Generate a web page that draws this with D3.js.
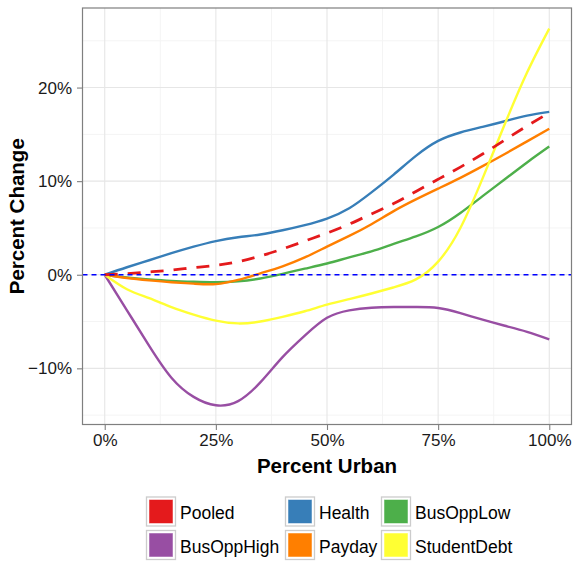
<!DOCTYPE html>
<html>
<head>
<meta charset="utf-8">
<script src="https://cdn.jsdelivr.net/npm/d3@7"></script>
<style>
  html, body { margin: 0; padding: 0; background: #ffffff; }
  svg { display: block; font-family: "Liberation Sans", Arial, Helvetica, sans-serif; }
</style>
</head>
<body>
<svg id="chart" width="574" height="562"></svg>
<script>
// Share of urban population (0..1) at which each smoothed curve is sampled
const urban = [0, 0.05, 0.1, 0.15, 0.2, 0.25, 0.3, 0.35, 0.4, 0.45, 0.5,
               0.55, 0.6, 0.65, 0.7, 0.75, 0.8, 0.85, 0.9, 0.95, 1.0];

// Percent change for each series
const pooled      = [0, 0.12, 0.3, 0.5, 0.75, 1.0, 1.4, 2.0, 2.75, 3.6, 4.45,
                     5.4, 6.5, 7.6, 8.9, 10.2, 11.5, 12.9, 14.4, 15.9, 17.3];
const health      = [0, 0.8, 1.55, 2.3, 3.0, 3.6, 4.0, 4.3, 4.75, 5.3, 6.0,
                     7.1, 8.8, 10.7, 12.7, 14.3, 15.2, 15.8, 16.4, 17.0, 17.4];
const busOppLow   = [0, -0.3, -0.5, -0.65, -0.75, -0.8, -0.7, -0.4, 0.1, 0.65, 1.2,
                     1.85, 2.5, 3.3, 4.1, 5.1, 6.6, 8.4, 10.2, 12.0, 13.7];
const busOppHigh  = [0, -3.8, -7.6, -11.0, -13.05, -13.95, -13.5, -11.5, -8.8, -6.5, -4.6,
                     -3.8, -3.52, -3.45, -3.45, -3.55, -4.1, -4.8, -5.45, -6.1, -6.9];
const payday      = [0, -0.35, -0.6, -0.8, -0.95, -1.0, -0.55, 0.15, 0.9, 1.85, 3.0,
                     4.15, 5.4, 6.8, 8.05, 9.2, 10.35, 11.6, 12.9, 14.25, 15.6];
const studentDebt = [0, -1.55, -2.5, -3.45, -4.25, -4.9, -5.2, -5.0, -4.5, -3.9, -3.2,
                     -2.6, -2.0, -1.35, -0.5, 1.4, 5.0, 10.3, 16.1, 21.6, 26.3];

const seriesNames  = ["Pooled", "Health", "BusOppLow", "BusOppHigh", "Payday", "StudentDebt"];
const seriesValues = [pooled, health, busOppLow, busOppHigh, payday, studentDebt];
const seriesColors = ["#E41A1C", "#377EB8", "#4DAF4A", "#984EA3", "#FF7F00", "#FFFF33"];

const xTicks = [0, 0.25, 0.5, 0.75, 1];
const xTickLabels = ["0%", "25%", "50%", "75%", "100%"];
const yTicks = [-10, 0, 10, 20];
const yTickLabels = ["\u221210%", "0%", "10%", "20%"];

const svg = d3.select("#chart");

const panel = { left: 82.5, right: 571.5, top: 8, bottom: 424.5 };

const x = d3.scaleLinear().domain([-0.05, 1.05]).range([panel.left, panel.right]);
const y = d3.scaleLinear().domain([-16, 28.5]).range([panel.bottom, panel.top]);

// Panel background
svg.append("rect")
  .attr("x", panel.left).attr("y", panel.top)
  .attr("width", panel.right - panel.left).attr("height", panel.bottom - panel.top)
  .attr("fill", "#ffffff");

// Grid: minor lines between the major ones
const xMinor = [0.125, 0.375, 0.625, 0.875];
const yMinor = [-15, -5, 5, 15, 25];
const grid = svg.append("g");
grid.selectAll(".xminor").data(xMinor).enter().append("line")
  .attr("x1", d => x(d)).attr("x2", d => x(d))
  .attr("y1", panel.top).attr("y2", panel.bottom)
  .attr("stroke", "#f4f4f4").attr("stroke-width", 1);
grid.selectAll(".yminor").data(yMinor).enter().append("line")
  .attr("x1", panel.left).attr("x2", panel.right)
  .attr("y1", d => y(d)).attr("y2", d => y(d))
  .attr("stroke", "#f4f4f4").attr("stroke-width", 1);
grid.selectAll(".xmajor").data(xTicks).enter().append("line")
  .attr("x1", d => x(d)).attr("x2", d => x(d))
  .attr("y1", panel.top).attr("y2", panel.bottom)
  .attr("stroke", "#e6e6e6").attr("stroke-width", 1.1);
grid.selectAll(".ymajor").data(yTicks).enter().append("line")
  .attr("x1", panel.left).attr("x2", panel.right)
  .attr("y1", d => y(d)).attr("y2", d => y(d))
  .attr("stroke", "#e6e6e6").attr("stroke-width", 1.1);

// Smoothed curves
const line = d3.line()
  .x((d, i) => x(urban[i]))
  .y(d => y(d))
  .curve(d3.curveNatural);

const curves = svg.append("g").attr("fill", "none");
seriesNames.forEach((name, k) => {
  if (name === "Pooled") return;
  curves.append("path")
    .datum(seriesValues[k])
    .attr("d", line)
    .attr("stroke", seriesColors[k])
    .attr("stroke-width", 2.4)
    .attr("stroke-linecap", "butt");
});
// Pooled estimate, dashed
curves.append("path")
  .datum(pooled)
  .attr("d", line)
  .attr("stroke", seriesColors[0])
  .attr("stroke-width", 2.8)
  .attr("stroke-dasharray", "13,10");

// Zero reference line
svg.append("line")
  .attr("x1", panel.left).attr("x2", panel.right)
  .attr("y1", y(0)).attr("y2", y(0))
  .attr("stroke", "#0000FF").attr("stroke-width", 1.3)
  .attr("stroke-dasharray", "5,4");

// Panel border
svg.append("rect")
  .attr("x", panel.left).attr("y", panel.top)
  .attr("width", panel.right - panel.left).attr("height", panel.bottom - panel.top)
  .attr("fill", "none").attr("stroke", "#7f7f7f").attr("stroke-width", 1.2);

// Axes
const xAxis = d3.axisBottom(x).tickValues(xTicks)
  .tickFormat((d, i) => xTickLabels[i]).tickSize(5.5).tickPadding(4);
const yAxis = d3.axisLeft(y).tickValues(yTicks)
  .tickFormat((d, i) => yTickLabels[i]).tickSize(5.5).tickPadding(5);

const gx = svg.append("g").attr("transform", `translate(0,${panel.bottom})`).call(xAxis);
const gy = svg.append("g").attr("transform", `translate(${panel.left},0)`).call(yAxis);
[gx, gy].forEach(g => {
  g.select(".domain").remove();
  g.selectAll(".tick line").attr("stroke", "#7f7f7f").attr("stroke-width", 1.1);
  g.selectAll(".tick text")
    .attr("fill", "#1a1a1a")
    .style("font-size", "17px")
    .style("font-family", "'Liberation Sans', Arial, sans-serif");
});

// Axis titles
svg.append("text")
  .attr("x", (panel.left + panel.right) / 2).attr("y", 473)
  .attr("text-anchor", "middle")
  .style("font-size", "20.5px").style("font-weight", "bold")
  .attr("fill", "#000")
  .text("Percent Urban");

svg.append("text")
  .attr("transform", `translate(23.5,${(panel.top + panel.bottom) / 2}) rotate(-90)`)
  .attr("text-anchor", "middle")
  .style("font-size", "20.5px").style("font-weight", "bold")
  .attr("fill", "#000")
  .text("Percent Change");

// Legend, filled row by row in three columns
const legendCols = [146, 285, 381];
const legendRows = [496.5, 530];
const legend = svg.append("g");
seriesNames.forEach((name, k) => {
  const col = k % 3, row = Math.floor(k / 3);
  const kx = legendCols[col], ky = legendRows[row];
  const g = legend.append("g").attr("transform", `translate(${kx},${ky})`);
  g.append("rect")
    .attr("x", 0.5).attr("y", 0.5).attr("width", 29).attr("height", 29)
    .attr("fill", "#ffffff").attr("stroke", "#cccccc").attr("stroke-width", 1.3);
  g.append("rect")
    .attr("x", 3.5).attr("y", 3.5).attr("width", 23).attr("height", 23)
    .attr("fill", seriesColors[k])
    .attr("stroke", seriesColors[k]).attr("stroke-opacity", 0.5).attr("stroke-width", 1);
  g.append("text")
    .attr("x", 34).attr("y", 22.5)
    .style("font-size", "17.5px")
    .attr("fill", "#000")
    .text(name);
});
</script>
</body>
</html>
